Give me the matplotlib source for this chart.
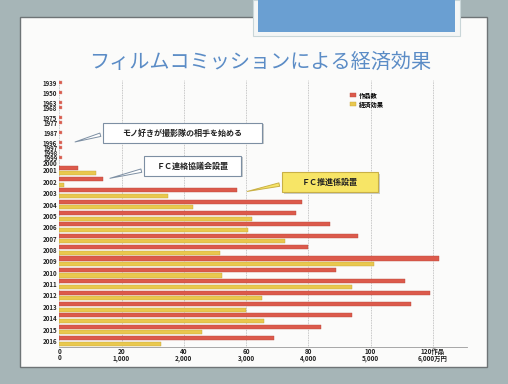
import matplotlib
matplotlib.use("Agg")
import matplotlib.pyplot as plt
from matplotlib.patches import Rectangle

plt.rcParams["font.family"] = ["Noto Sans CJK JP", "DejaVu Sans"]
plt.rcParams["axes.unicode_minus"] = False

# データ（作品数 / 経済効果 万円）
years = [1939, 1950, 1963, 1968, 1975, 1977, 1987, 1996, 1997, 1998, 1999, 2000,
         2001, 2002, 2003, 2004, 2005, 2006, 2007, 2008, 2009, 2010, 2011, 2012,
         2013, 2014, 2015, 2016]
works = [1, 1, 1, 1, 1, 1, 1, 1, 1, 0, 1, 0,
         6, 14, 57, 78, 76, 87, 96, 80, 122, 89, 111, 119,
         113, 94, 84, 69]
effect = [0, 0, 0, 0, 0, 0, 0, 0, 0, 0, 0, 0,
          590, 80, 1750, 2150, 3090, 3030, 3630, 2580, 5060, 2610, 4710, 3250,
          3000, 3290, 2290, 1640]
x_ticks = [0, 20, 40, 60, 80, 100, 120]
x_labels = ["0\n0", "20\n1,000", "40\n2,000", "60\n3,000", "80\n4,000",
            "100\n5,000", "120作品\n6,000万円"]
notes = ["モノ好きが撮影隊の相手を始める", "ＦＣ連絡協議会設置", "ＦＣ推進係設置"]

W, H = 508, 384
fig = plt.figure(figsize=(W / 100, H / 100), dpi=100)
fig.patch.set_facecolor("#a6b5b7")


def fx(px):
    return px / W


def fy(py):
    return 1 - py / H


# スライド背景
fig.patches.append(Rectangle((fx(20), fy(367)), fx(467), 350 / H, transform=fig.transFigure,
                             facecolor="#fbfbfa", edgecolor="#6e7476", lw=1.0, zorder=-3))
fig.patches.append(Rectangle((fx(253), fy(36)), fx(207), 36 / H, transform=fig.transFigure,
                             facecolor="#f4f6f6", edgecolor="#c9d6d8", lw=0.8, zorder=-2))
fig.patches.append(Rectangle((fx(258), fy(32)), fx(197), 32 / H, transform=fig.transFigure,
                             facecolor="#6a9fd2", edgecolor="none", zorder=-1))

fig.text(fx(260), fy(62), "フィルムコミッションによる経済効果", ha="center", va="center",
         fontsize=14.5, color="#5b8cc6")

# 行位置（2000年以前は詰めて表示）
pos = []
p = 0.0
for i, y in enumerate(years):
    if i > 0:
        if y <= 2000:
            p += 0.44 * (2 if y - years[i - 1] > 5 else 1)
        elif y == 2001:
            p += 0.68
        else:
            p += 1.0
    pos.append(p)

old = [i for i, y in enumerate(years) if y < 2001]
new = [i for i, y in enumerate(years) if y >= 2001]

ax = fig.add_axes([fx(59.3), fy(347), fx(467 - 59.3), 267 / H])
ax.set_facecolor("none")

red, yellow = "#dc5a4b", "#e9c84e"
b1 = ax.barh([pos[i] - 0.25 for i in new], [works[i] for i in new], height=0.36,
             color=red, edgecolor="#b84a3e", lw=0.3, label="作品数", zorder=3)
b2 = ax.barh([pos[i] + 0.25 for i in new], [effect[i] / 50 for i in new], height=0.36,
             color=yellow, edgecolor="#c5a23a", lw=0.3, label="経済効果", zorder=3)
ax.barh([pos[i] for i in old], [works[i] for i in old], height=0.3,
        color=red, edgecolor="#d79c98", lw=0.3, zorder=3)

ax.set_xlim(0, 131)
ax.set_ylim(23.26, -0.24)
ax.set_xticks(x_ticks)
ax.set_xticklabels(x_labels, fontsize=4.6, fontweight="bold", linespacing=0.85, color="#222")
ax.set_yticks(pos)
ax.set_yticklabels([str(y) for y in years], fontsize=4.4, fontweight="bold", color="#222")
ax.tick_params(length=0, pad=1)
ax.tick_params(axis="y", pad=1.5)
for s in ["top", "right", "left"]:
    ax.spines[s].set_visible(False)
ax.spines["bottom"].set_color("#9a9a9a")
ax.spines["bottom"].set_linewidth(0.6)
ax.grid(axis="x", color="#b5b5b5", ls=(0, (1, 1)), lw=0.6, zorder=0)
ax.set_axisbelow(True)

ax.legend(handles=[b1, b2], loc="upper left", bbox_to_anchor=(fx(344), fy(86)),
          bbox_transform=fig.transFigure, frameon=False, prop={"size": 4.5, "weight": "bold"},
          handlelength=1.0, handleheight=0.6, handletextpad=0.5, labelspacing=0.3)

# 吹き出し
callouts = [
    (notes[0], (103, 123, 159, 20), (103, 134), (4.2, pos[years.index(1996)]), "white", "#7d8fa3"),
    (notes[1], (144, 156, 97, 20), (144, 170), (15.4, pos[years.index(2002)] - 0.25), "white", "#7d8fa3"),
    (notes[2], (282, 172, 96, 20), (282, 184), (59.5, pos[years.index(2003)] - 0.1), "#f7e566", "#c9b046"),
]
for text, (bx, by, bw, bh), tail, tip, fc, ec in callouts:
    fig.patches.append(Rectangle((fx(bx + 1.5), fy(by + bh + 1.5)), fx(bw), bh / H,
                                 transform=fig.transFigure, facecolor="#c8cccd",
                                 edgecolor="none", zorder=4))
    fig.patches.append(Rectangle((fx(bx), fy(by + bh)), fx(bw), bh / H,
                                 transform=fig.transFigure, facecolor=fc,
                                 edgecolor=ec, lw=0.8, zorder=5))
    fig.text(fx(bx + bw / 2), fy(by + bh / 2), text, ha="center", va="center",
             fontsize=5.8, fontweight="bold", color="#222", zorder=6)
    ax.annotate("", xy=tip, xycoords="data", xytext=(fx(tail[0]), fy(tail[1])),
                textcoords="figure fraction", annotation_clip=False,
                arrowprops=dict(arrowstyle="wedge,tail_width=0.25", facecolor=fc,
                                edgecolor=ec, lw=0.7))

fig.savefig("out.png", dpi=100, facecolor=fig.get_facecolor())
